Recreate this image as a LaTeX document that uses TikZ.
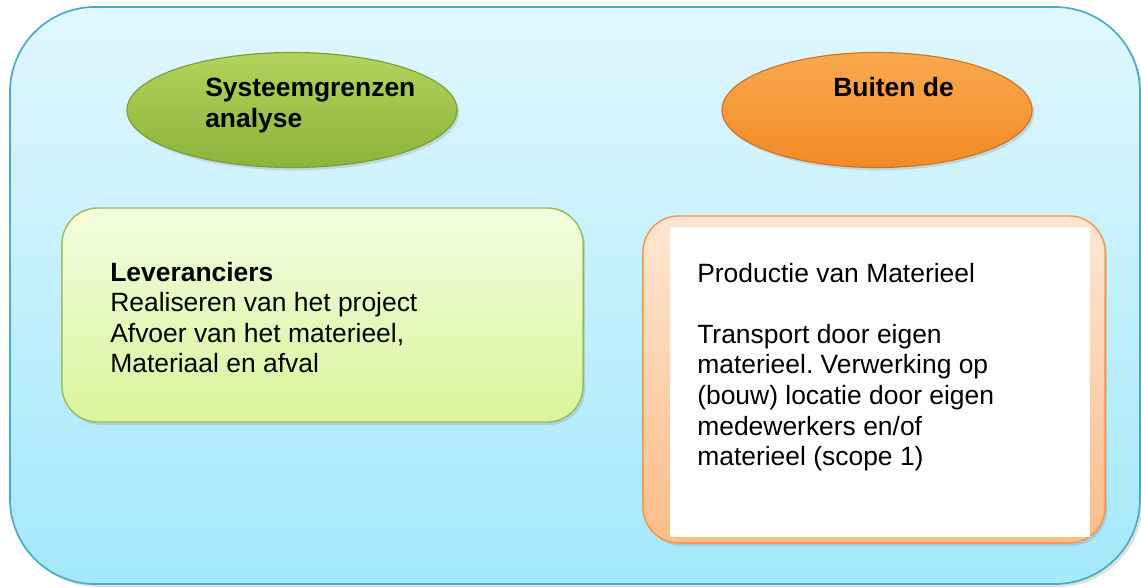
\documentclass[tikz,border=0pt]{standalone}
\usepackage{fontspec}
\setmainfont{Liberation Sans}
\frenchspacing
\usetikzlibrary{shapes.geometric,shadows}

\definecolor{skytop}{HTML}{E1F7FE}
\definecolor{skybot}{HTML}{A3E8FB}
\definecolor{skyline}{HTML}{4AABC8}
\definecolor{limetop}{HTML}{F4FBE0}
\definecolor{limebot}{HTML}{D9F59A}
\definecolor{limeline}{HTML}{9BBB59}
\definecolor{peachtop}{HTML}{FDE6D3}
\definecolor{peachbot}{HTML}{FBBD88}
\definecolor{peachline}{HTML}{F79646}
\definecolor{olivetop}{HTML}{B2D35C}
\definecolor{olivebot}{HTML}{8BB33A}
\definecolor{oliveline}{HTML}{7D9C33}
\definecolor{orangetop}{HTML}{F9A94E}
\definecolor{orangebot}{HTML}{F28A26}
\definecolor{orangeline}{HTML}{CF7424}

\begin{document}
\begin{tikzpicture}[x=0.025cm,y=-0.025cm]
    \tikzset{
        framestyle/.style={draw=skyline, line width=1.2pt, top color=skytop, bottom color=skybot,
            rounded corners=2.125cm, drop shadow={opacity=0.25, shadow xshift=2pt, shadow yshift=-2pt}},
        ovalstyle/.style={ellipse, minimum height=2.875cm, line width=0.8pt,
            drop shadow={opacity=0.25, shadow xshift=1.5pt, shadow yshift=-2pt}},
        boxstyle/.style={rectangle, line width=1pt, rounded corners=0.9cm,
            drop shadow={opacity=0.25, shadow xshift=1.5pt, shadow yshift=-2pt}},
        titletext/.style={anchor=north west, inner sep=0pt, align=left,
            font=\fontsize{18.8}{22}\selectfont\bfseries},
        bodytext/.style={anchor=north west, inner sep=0pt, align=left,
            font=\fontsize{18.8}{21.7}\selectfont}
    }
    \useasboundingbox (0,0) rectangle (1141,587);

    % --- achtergrond ---
    \path[framestyle] (10,7) rectangle (1140,584);

    % --- 1. SYSTEEMGRENZEN ---
    \node[ovalstyle, minimum width=8.25cm, draw=oliveline, top color=olivetop, bottom color=olivebot]
        (sysg) at (292,110) {};
    \node[titletext] (sysgtext) at (205,78) {Systeemgrenzen\\analyse};

    \node[boxstyle, minimum width=13.025cm, minimum height=5.35cm, draw=limeline,
        top color=limetop, bottom color=limebot] (lev) at (322.5,315) {};
    \node[bodytext] (levtext) at (110,262)
        {\textbf{Leveranciers}\\Realiseren van het project\\Afvoer van het materieel,\\Materiaal en afval};

    % --- 2. BUITEN DE ---
    \node[ovalstyle, minimum width=7.75cm, draw=orangeline, top color=orangetop, bottom color=orangebot]
        (buiten) at (877,110) {};
    \node[titletext] (buitentext) at (833,77) {Buiten de};

    \node[boxstyle, minimum width=11.55cm, minimum height=8.175cm, draw=peachline,
        top color=peachtop, bottom color=peachbot] (prod) at (874,379.5) {};
    \fill[white] (670,227) rectangle (1090,537);
    \node[bodytext] (prodtext) at (697,263)
        {Productie van Materieel\\[21.7pt]Transport door eigen\\materieel. Verwerking op\\(bouw) locatie door eigen\\medewerkers en/of\\materieel (scope 1)};

\end{tikzpicture}
\end{document}
